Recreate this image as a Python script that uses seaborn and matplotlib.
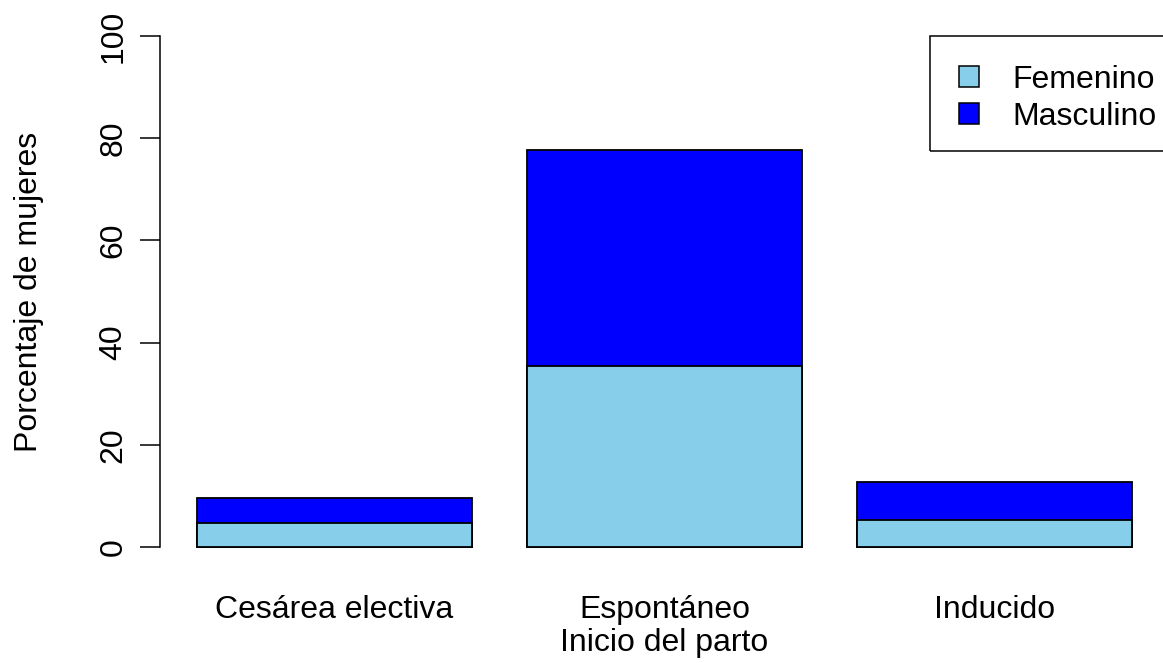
import pandas as pd
import matplotlib
matplotlib.use("Agg")
import matplotlib.pyplot as plt
from matplotlib.patches import Patch, Rectangle
import seaborn as sns

# Values (percent of women)
categories = ["Cesárea electiva", "Espontáneo", "Inducido"]
femenino = [4.75, 35.4, 5.3]
masculino = [4.9, 42.3, 7.4]
series_names = ["Femenino", "Masculino"]
y_ticks = [0, 20, 40, 60, 80, 100]

COL_F = "#87CEEB"
COL_M = "#0000FF"

def main():
    sns.set_style("white")
    plt.rcParams["font.family"] = ["Liberation Sans", "DejaVu Sans"]
    for key in ["text.color", "axes.labelcolor", "xtick.color", "ytick.color"]:
        plt.rcParams[key] = "black"
    fs = 23

    df = pd.DataFrame({"Inicio": categories, "Femenino": femenino, "Masculino": masculino})
    df["Total"] = df["Femenino"] + df["Masculino"]

    fig = plt.figure(figsize=(11.63, 6.63), dpi=100)
    W, H = 1163, 663
    left_px, right_px, top_px, bot_px = 159.6, 1169.4, 15.6, 567.4
    ax = fig.add_axes([left_px / W, 1 - bot_px / H,
                       (right_px - left_px) / W, (bot_px - top_px) / H])

    bar_w = 1 / 1.2
    # stacked: total in blue first, female segment drawn over the bottom
    sns.barplot(data=df, x="Inicio", y="Total", order=categories, color=COL_M,
                saturation=1, width=bar_w, edgecolor="black", linewidth=1.3, ax=ax)
    sns.barplot(data=df, x="Inicio", y="Femenino", order=categories, color=COL_F,
                saturation=1, width=bar_w, edgecolor="black", linewidth=1.3, ax=ax)

    ax.set_xlim(-0.53, 2.53)
    ax.set_ylim(-4, 104)
    ax.set_yticks(y_ticks)
    ax.set_yticklabels([str(t) for t in y_ticks], rotation=90, va="center", fontsize=fs)
    ax.tick_params(axis="y", length=14.4, width=1.1, pad=8, color="black", left=True)
    ax.tick_params(axis="x", length=0, pad=20, labelsize=fs)

    for s in ["top", "right", "bottom"]:
        ax.spines[s].set_visible(False)
    ax.spines["left"].set_bounds(0, 100)
    ax.spines["left"].set_linewidth(1.1)
    ax.spines["left"].set_color("black")

    ax.set_xlabel("Inicio del parto", fontsize=fs)
    ax.xaxis.set_label_coords(0.5, -0.11)
    ax.set_ylabel("Porcentaje de mujeres", fontsize=fs)
    ax.yaxis.set_label_coords(-0.114, 0.5)

    handles = [Patch(facecolor=COL_F, edgecolor="black", linewidth=1.1),
               Patch(facecolor=COL_M, edgecolor="black", linewidth=1.1)]
    fig.legend(handles, series_names, loc="upper left",
               bbox_to_anchor=(930 / W, 1 - 36 / H), bbox_transform=fig.transFigure,
               fontsize=fs, frameon=False,
               handlelength=0.62, handleheight=0.62, handletextpad=1.06,
               borderpad=0.9, labelspacing=0.22, borderaxespad=0)
    # R-style legend box, drawn separately so its padding matches the original
    fig.patches.append(Rectangle((930 / W, 1 - 151 / H), 250 / W, 115 / H,
                                 transform=fig.transFigure, fill=False,
                                 edgecolor="black", linewidth=1.1))

    fig.savefig("out.png", dpi=100)
    plt.close(fig)

if __name__ == "__main__":
    main()
